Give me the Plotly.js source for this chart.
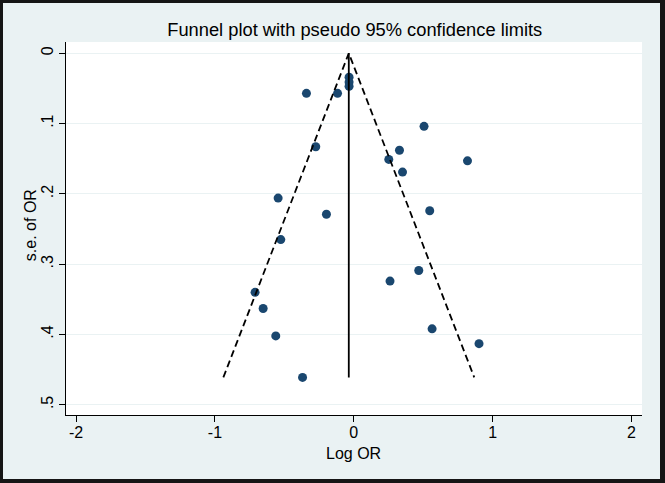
<!DOCTYPE html>
<html><head><meta charset="utf-8">
<script src="https://cdn.plot.ly/plotly-3.0.1.min.js"></script>
<style>
html,body{margin:0;padding:0;background:#eaf2f3;overflow:hidden;}
#chart{width:665px;height:483px;}
#frame{position:absolute;left:0;top:0;width:665px;height:483px;box-sizing:border-box;border-style:solid;border-color:#151515;border-width:3px 5px 4px 3px;pointer-events:none;}
</style>
</head><body>
<div id="chart"></div><div id="frame"></div>
<script>
// Study estimates (log odds ratio) and their standard errors
const logOR = [-0.034, -0.034, -0.034, -0.341, -0.117, 0.506, -0.274, 0.329, 0.252, 0.819, 0.351,
               -0.545, -0.197, 0.547, -0.526, 0.468, 0.261, -0.711, -0.653, 0.564, -0.562, 0.902, -0.369];
const seOR  = [0.034, 0.041, 0.047, 0.057, 0.057, 0.104, 0.133, 0.138, 0.151, 0.153, 0.169,
               0.206, 0.229, 0.224, 0.265, 0.309, 0.324, 0.340, 0.363, 0.392, 0.402, 0.413, 0.461];
const pooledLogOR = -0.036;
const xTickVals = [-2, -1, 0, 1, 2];
const xTickText = ['-2', '-1', '0', '1', '2'];
const yTickVals = [0, 0.1, 0.2, 0.3, 0.4, 0.5];
const yTickText = ['0', '.1', '.2', '.3', '.4', '.5'];
const titleText = 'Funnel plot with pseudo 95% confidence limits';
const xTitle = 'Log OR';
const yTitle = 's.e. of OR';

const seMax = Math.max(...seOR);
const z = 1.96;
const FONT = 'Liberation Sans, Arial, sans-serif';

const traces = [
  {
    type: 'scatter', mode: 'markers', x: logOR, y: seOR,
    marker: {color: '#1a476f', size: 9}, showlegend: false, hoverinfo: 'x+y'
  },
  {
    type: 'scatter', mode: 'lines',
    x: [pooledLogOR - z * seMax, pooledLogOR, pooledLogOR + z * seMax],
    y: [seMax, 0, seMax],
    line: {color: '#000', width: 1.8, dash: '7px,4px'}, showlegend: false, hoverinfo: 'skip'
  },
  {
    type: 'scatter', mode: 'lines',
    x: [pooledLogOR, pooledLogOR], y: [0, seMax],
    line: {color: '#000', width: 1.8}, showlegend: false, hoverinfo: 'skip'
  }
];

const layout = {
  width: 665, height: 483,
  paper_bgcolor: '#eaf2f3', plot_bgcolor: '#ffffff',
  margin: {l: 66, r: 23, t: 42, b: 68, pad: 0},
  font: {family: FONT, color: '#000', size: 16},
  title: {text: titleText, font: {size: 18.3, family: FONT},
          x: 0.5335, xanchor: 'center', y: 0.938, yanchor: 'middle'},
  xaxis: {
    range: [-2.073, 2.076], tickvals: xTickVals, ticktext: xTickText,
    showgrid: false, zeroline: false, showline: true, linecolor: '#000', linewidth: 1,
    ticks: 'outside', ticklen: 6, tickcolor: '#000', tickwidth: 1,
    tickfont: {size: 16}, ticklabelstandoff: -3
  },
  yaxis: {
    range: [0.5145, -0.016], tickvals: yTickVals, ticktext: yTickText,
    showgrid: true, gridcolor: '#eaf2f3', gridwidth: 1.2,
    zeroline: false, showline: true, linecolor: '#000', linewidth: 1,
    ticks: 'outside', ticklen: 6, tickcolor: '#000', tickwidth: 1,
    tickangle: -90, tickfont: {size: 16}, ticklabelstandoff: 0
  },
  annotations: [
    {text: xTitle, xref: 'paper', yref: 'paper', x: 0.4997, y: -0.1019,
     xanchor: 'center', yanchor: 'middle', showarrow: false, font: {size: 16}},
    {text: yTitle, xref: 'paper', yref: 'paper', x: -0.0625, y: 0.509, textangle: -90,
     xanchor: 'center', yanchor: 'middle', showarrow: false, font: {size: 16}}
  ]
};

Plotly.newPlot('chart', traces, layout, {displayModeBar: false, staticPlot: true});
</script>
</body></html>
